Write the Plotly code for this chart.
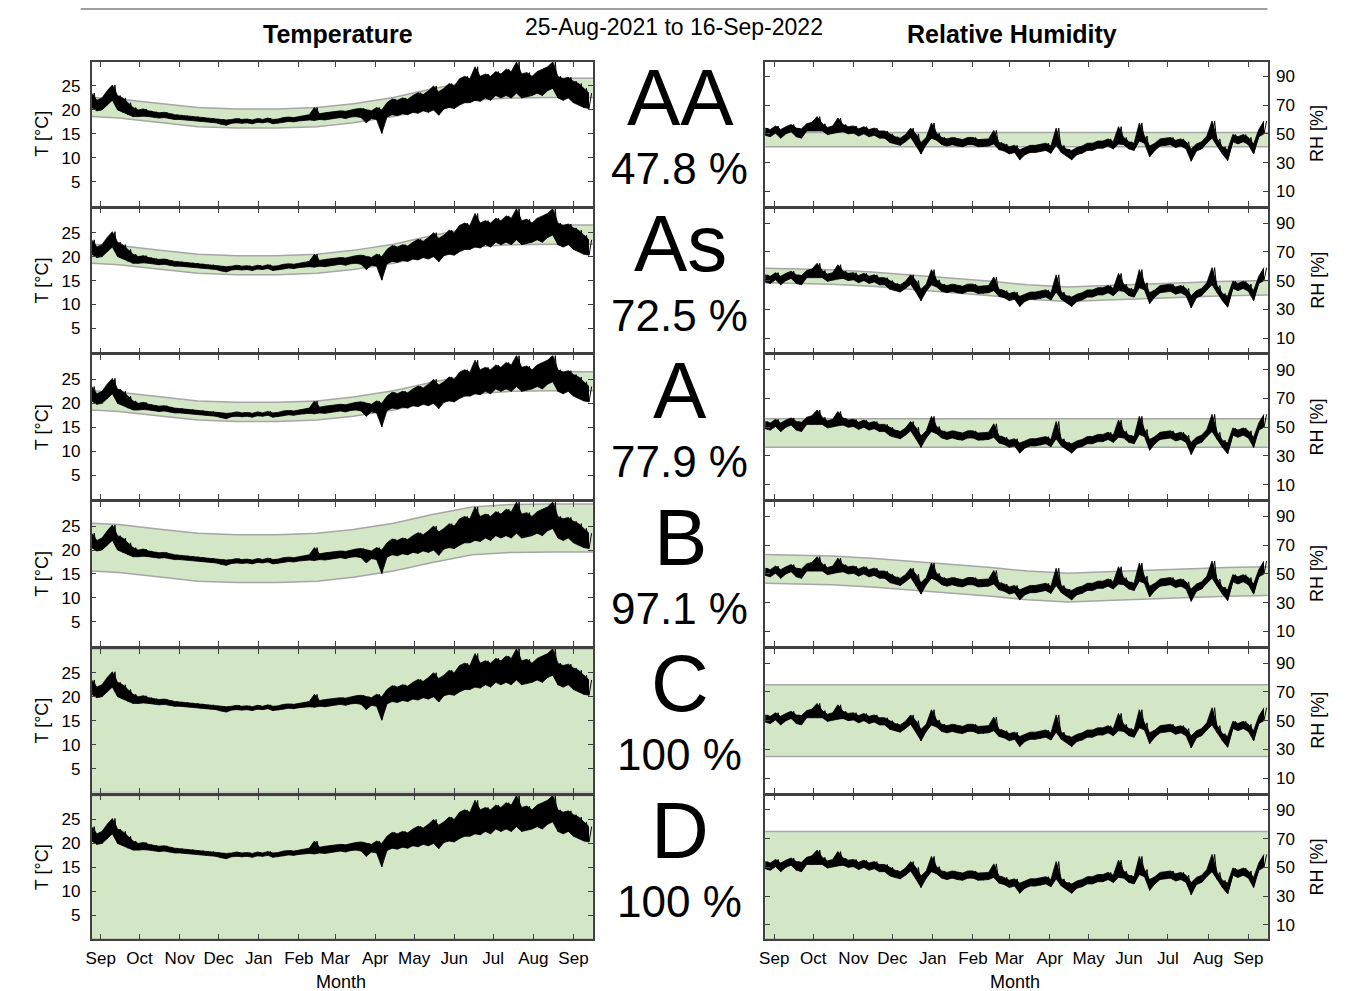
import pandas as pd
import plotly.graph_objects as go

# ---------------- data ----------------
START, END = "2021-08-25", "2022-09-16"
sample_dates = pd.date_range(START, periods=97, freq="4D")

# range of the hourly temperature within each 4-day window
T_lo = [20.5, 19.8, 20.0, 21.0, 22.0, 20.0, 19.5, 19.0, 18.6, 18.6,
        18.7, 18.6, 18.5, 18.3, 18.4, 18.2, 18.0, 18.0, 17.9, 17.9,
        17.8, 17.6, 17.5, 17.4, 17.3, 17.0, 16.8, 17.2, 17.3, 17.2,
        17.3, 17.1, 17.4, 17.3, 17.5, 17.1, 17.2, 17.4, 17.6, 17.5,
        17.7, 17.8, 17.9, 17.8, 18.0, 17.9, 18.1, 18.3, 18.4, 18.2,
        18.5, 18.6, 18.4, 17.3, 18.2, 18.0, 15.1, 18.5, 19.0, 18.8,
        19.2, 19.0, 19.5, 19.3, 19.8, 19.5, 20.0, 18.9, 20.2, 20.5,
        20.3, 21.0, 21.5, 21.5, 22.0, 21.8, 22.5, 22.0, 23.0, 22.5,
        23.0, 22.5, 23.5, 22.5, 22.8, 23.0, 23.5, 23.0, 24.0, 24.5,
        22.5, 22.0, 22.5, 21.5, 21.0, 20.5, 20.3]
T_hi = [23.5, 22.0, 22.5, 24.0, 25.2, 23.0, 22.5, 21.5, 20.5, 20.0,
        20.2, 19.8, 19.6, 19.4, 19.5, 19.2, 19.0, 18.9, 18.8, 18.7,
        18.6, 18.5, 18.3, 18.3, 18.1, 18.0, 17.9, 18.0, 18.2, 18.0,
        18.1, 17.9, 18.2, 18.0, 18.3, 18.0, 18.1, 18.4, 18.5, 18.4,
        18.6, 18.8, 19.0, 20.5, 19.2, 19.4, 19.5, 19.6, 19.8, 19.7,
        20.0, 20.2, 20.3, 20.0, 19.8, 20.5, 20.0, 21.5, 22.3, 22.0,
        22.5, 22.2, 23.0, 23.6, 23.2, 24.0, 25.0, 23.8, 24.5, 25.5,
        25.0, 26.5, 27.0, 26.5, 29.0, 27.0, 27.5, 27.0, 28.0, 27.5,
        28.5, 28.0, 30.0, 27.5, 27.8, 27.0, 28.0, 28.5, 29.0, 30.0,
        27.0, 26.5, 26.8, 26.0, 25.5, 24.5, 23.5]

# range of the hourly relative humidity within each 4-day window
RH_lo = [49, 48, 50.5, 47, 50, 51.5, 48, 47, 52, 52,
         52, 52, 49.5, 50.5, 51, 51.5, 50, 50.5, 48.5, 50,
         48, 49, 47, 47, 44, 43, 42, 44.5, 47.5, 42,
         36, 42.5, 47, 45.5, 42.5, 41.5, 42.5, 41.5, 41, 42.5,
         42.5, 41, 41, 41.5, 43, 39, 38, 36, 37, 32,
         35.5, 37, 37, 37.5, 38.5, 36.5, 42, 37, 34.5, 32,
         35.5, 36.5, 38.5, 38.5, 40, 40, 41.5, 39.5, 43, 42.5,
         39.5, 38.5, 45, 43.5, 34, 38.5, 41.5, 42, 42.5, 40.5,
         41.5, 39.5, 31, 38, 39.5, 43.5, 47, 41.5, 36, 31.5,
         44.5, 43, 44.5, 42.5, 36, 48, 50]
RH_hi = [54, 53, 55.5, 53, 55, 56.5, 54, 53.5, 57, 58,
         62, 57, 54.5, 55.5, 61, 56.5, 55, 55.5, 53.5, 55,
         53, 54, 52, 52, 50, 48, 47, 49.5, 54, 50,
         44, 47.5, 57.6, 50.5, 47.5, 46.5, 47.5, 46.5, 46, 47.5,
         47.5, 46, 46, 46.5, 52.4, 44, 43, 41, 42, 39,
         40.5, 42, 42, 42.5, 43.5, 41.5, 54, 42, 39.5, 38.5,
         40.5, 41.5, 43.5, 43.5, 45, 45, 46.5, 44.5, 55, 47.5,
         44.5, 43.5, 57.6, 48.5, 41.5, 43.5, 46.5, 47, 47.5, 45.5,
         46.5, 44.5, 39.5, 43, 44.5, 48.5, 59, 46.5, 41, 39,
         49.5, 48, 49.5, 47.5, 43, 53, 59]

band_dates = ["2021-08-25", "2021-09-15", "2021-10-15", "2021-11-15", "2021-12-15",
              "2022-01-15", "2022-02-15", "2022-03-15", "2022-04-15", "2022-05-15",
              "2022-06-15", "2022-07-15", "2022-08-15", "2022-09-16"]
T_center = [20.6, 20.3, 19.4, 18.5, 18.2, 18.2, 18.5, 19.3, 20.6, 22.4, 24.0, 24.5, 24.6, 24.6]
RH_center = [53.5, 53.3, 52.5, 51.0, 49.0, 47.0, 44.5, 42.0, 40.5, 41.5, 42.5, 43.5, 44.5, 45.0]
RH_annual_mean = 46

classes = ["AA", "As", "A", "B", "C", "D"]
percent_labels = ["47.8 %", "72.5 %", "77.9 %", "97.1 %", "100 %", "100 %"]
# band rules: ("seasonal", half) | ("flat", half) | ("fixed", lo, hi)
T_rules = [("seasonal", 2), ("seasonal", 2), ("seasonal", 2), ("seasonal", 5),
           ("fixed", 0, 30), ("fixed", 0, 30)]
RH_rules = [("flat", 5), ("seasonal", 5), ("flat", 10), ("seasonal", 10),
            ("fixed", 25, 75), ("fixed", 0, 75)]

month_ticks = pd.date_range("2021-09-01", "2022-09-01", freq="MS")
month_labels = ["Sep", "Oct", "Nov", "Dec", "Jan", "Feb", "Mar", "Apr", "May",
                "Jun", "Jul", "Aug", "Sep"]
T_ticks = [5, 10, 15, 20, 25]
RH_ticks = [10, 30, 50, 70, 90]


# ---------------- helpers ----------------
def band(rule, centre, mean):
    n = len(band_dates)
    if rule[0] == "seasonal":
        return [c - rule[1] for c in centre], [c + rule[1] for c in centre]
    if rule[0] == "flat":
        return [mean - rule[1]] * n, [mean + rule[1]] * n
    return [rule[1]] * n, [rule[2]] * n


# zig-zag path through each window's low and high reading
zx, zT, zRH = [], [], []
for d, tl, th, rl, rh in zip(sample_dates, T_lo, T_hi, RH_lo, RH_hi):
    zx += [d, d + pd.Timedelta(days=2)]
    zT += [tl, th]
    zRH += [rl, rh]

# the page puts the plot 8 px from the top-left corner
OFF = 8
W, H = 1353 - OFF, 991 - OFF


def px(x):
    return (x - OFF) / W


def py(y):
    return 1 - (y - OFF) / H


FONT = "Liberation Sans, Arial, sans-serif"
GREEN = "#d3e7c7"
EDGE = "#a6a6a6"
AX = "#404040"
LX = (86, 589.5)
RX = (762.5, 1267.5)
TOP0, PH, GAP = 62, 143.7, 3.0

fig = go.Figure()
layout = dict(width=W, height=H, margin=dict(l=0, r=0, t=0, b=0),
              paper_bgcolor="white", plot_bgcolor="white", showlegend=False)
annotations = []


def label(text, x, y, size, angle=0):
    return dict(text=text, x=px(x), y=py(y), xref="paper", yref="paper",
                xanchor="center", yanchor="middle", textangle=angle,
                showarrow=False, font=dict(family=FONT, size=size, color="black"))


for r in range(6):
    top = TOP0 + r * (PH + GAP)
    ydom = [py(top + PH), py(top)]
    for c in range(2):
        idx = r * 2 + c + 1
        xa = "x" if idx == 1 else f"x{idx}"
        ya = "y" if idx == 1 else f"y{idx}"
        xs = LX if c == 0 else RX
        if c == 0:
            lo, hi = band(T_rules[r], T_center, None)
            dlo, dhi, zy, yr, yt = T_lo, T_hi, zT, [0, 30], T_ticks
        else:
            lo, hi = band(RH_rules[r], RH_center, RH_annual_mean)
            dlo, dhi, zy, yr, yt = RH_lo, RH_hi, zRH, [0, 100], RH_ticks
        fig.add_trace(go.Scatter(x=band_dates, y=lo, mode="lines",
                                 line=dict(color=EDGE, width=1.5),
                                 xaxis=xa, yaxis=ya, hoverinfo="skip"))
        fig.add_trace(go.Scatter(x=band_dates, y=hi, mode="lines",
                                 line=dict(color=EDGE, width=1.5),
                                 fill="tonexty", fillcolor=GREEN,
                                 xaxis=xa, yaxis=ya, hoverinfo="skip"))
        fig.add_trace(go.Scatter(x=sample_dates, y=dlo, mode="lines",
                                 line=dict(color="black", width=0.8),
                                 xaxis=xa, yaxis=ya))
        fig.add_trace(go.Scatter(x=sample_dates, y=dhi, mode="lines",
                                 line=dict(color="black", width=0.8),
                                 fill="tonexty", fillcolor="black",
                                 xaxis=xa, yaxis=ya))
        fig.add_trace(go.Scatter(x=zx, y=zy, mode="lines",
                                 line=dict(color="black", width=1),
                                 xaxis=xa, yaxis=ya))
        common = dict(showline=True, linecolor=AX, linewidth=1.5, mirror="ticks",
                      ticks="inside", ticklen=5, tickwidth=1.2, tickcolor=AX,
                      showgrid=False, zeroline=False,
                      tickfont=dict(family=FONT, size=17, color="black"))
        xkey = "xaxis" if idx == 1 else f"xaxis{idx}"
        ykey = "yaxis" if idx == 1 else f"yaxis{idx}"
        layout[xkey] = dict(common, domain=[px(xs[0]), px(xs[1])], anchor=ya,
                            type="date", range=[START, END],
                            tickvals=list(month_ticks), ticktext=month_labels,
                            showticklabels=(r == 5), ticklabelstandoff=3)
        layout[ykey] = dict(common, domain=ydom, anchor=xa, range=yr,
                            tickvals=yt, side="left" if c == 0 else "right",
                            ticklabelstandoff=6 if c == 0 else 3)
    ymid = top + PH / 2
    annotations.append(label("T [°C]", 36, ymid, 18, -90))
    annotations.append(label("RH [%]", 1317, ymid, 18, -90))
    annotations.append(label(classes[r], 677, 97.5 + r * 146.5, 80))
    annotations.append(label(percent_labels[r], 676, 168.5 + r * 146.5, 44))

annotations += [
    label("<b>Temperature</b>", 333, 34, 25),
    label("<b>Relative Humidity</b>", 1010, 34, 25),
    label("25-Aug-2021 to 16-Sep-2022", 671, 27, 23),
    label("Month", 336, 982, 18),
    label("Month", 1013, 982, 18),
]
layout["annotations"] = annotations
layout["shapes"] = [dict(type="line", xref="paper", yref="paper",
                         x0=px(75), x1=px(1267), y0=py(9), y1=py(9),
                         line=dict(color="#a0a0a0", width=2))]
fig.update_layout(**layout)
fig.write_html("out.html")
